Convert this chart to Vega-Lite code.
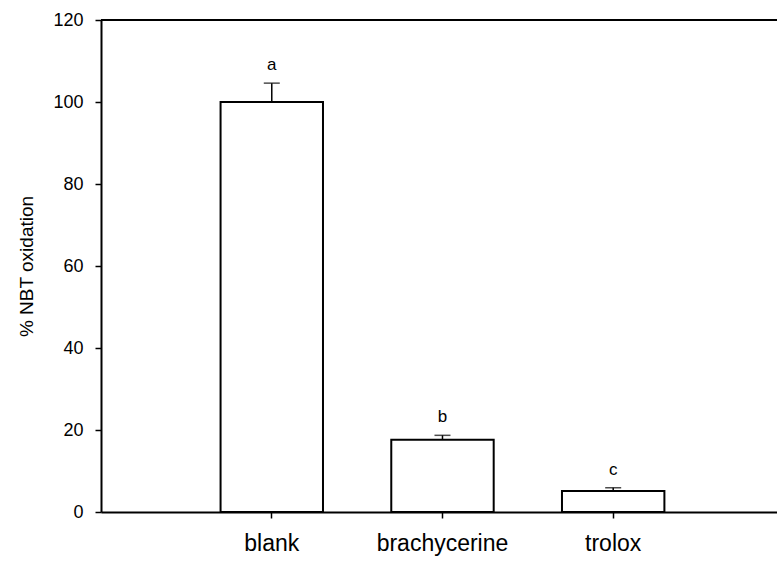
{
  "$schema": "https://vega.github.io/schema/vega-lite/v6.json",
  "autosize": "none",
  "width": 676,
  "height": 492,
  "padding": {"left": 101, "top": 20, "right": 0, "bottom": 49},
  "background": "white",
  "config": {
    "view": {"stroke": null},
    "font": "Liberation Sans",
    "axis": {
      "domainColor": "black",
      "domainWidth": 2,
      "tickColor": "black",
      "tickWidth": 1.5,
      "tickSize": 6,
      "labelColor": "black",
      "labelFont": "Liberation Sans",
      "titleFont": "Liberation Sans",
      "titleColor": "black",
      "titleFontWeight": "normal",
      "grid": false
    }
  },
  "data": {
    "values": [
      {"group": "blank", "mean": 100.0, "upper": 104.6, "sig": "a"},
      {"group": "brachycerine", "mean": 17.6, "upper": 18.7, "sig": "b"},
      {"group": "trolox", "mean": 5.1, "upper": 5.9, "sig": "c"}
    ]
  },
  "encoding": {
    "x": {
      "field": "group",
      "type": "nominal",
      "sort": null,
      "scale": {"paddingInner": 0.4, "paddingOuter": 0.68, "align": 0.515},
      "axis": {
        "title": null,
        "labelAngle": 0,
        "labelFontSize": 23,
        "labelPadding": 14,
        "labelBaseline": "top"
      }
    }
  },
  "layer": [
    {
      "mark": {"type": "bar", "fill": "white", "stroke": "black", "strokeWidth": 2},
      "encoding": {
        "y": {
          "field": "mean",
          "type": "quantitative",
          "scale": {"domain": [0, 120], "nice": false},
          "axis": {
            "title": "% NBT oxidation",
            "titleFontSize": 19,
            "titleAngle": -90,
            "titleBaseline": "alphabetic",
            "titleX": -69,
            "titleY": 246,
            "titleAlign": "center",
            "values": [0, 20, 40, 60, 80, 100, 120],
            "labelFontSize": 18,
            "labelPadding": 12,
            "labelFlush": false
          }
        }
      }
    },
    {
      "mark": {"type": "rule", "color": "black", "strokeWidth": 1.5},
      "encoding": {
        "y": {"field": "mean", "type": "quantitative"},
        "y2": {"field": "upper"}
      }
    },
    {
      "mark": {"type": "tick", "color": "black", "thickness": 1.5, "size": 16, "orient": "horizontal"},
      "encoding": {
        "y": {"field": "upper", "type": "quantitative"}
      }
    },
    {
      "mark": {"type": "text", "fontSize": 17, "color": "black", "baseline": "alphabetic", "dy": -13},
      "encoding": {
        "y": {"field": "upper", "type": "quantitative"},
        "text": {"field": "sig"}
      }
    },
    {
      "data": {"values": [{"top": 120}]},
      "mark": {"type": "rule", "color": "black", "strokeWidth": 2},
      "encoding": {
        "y": {"field": "top", "type": "quantitative"},
        "x": null
      }
    }
  ]
}
